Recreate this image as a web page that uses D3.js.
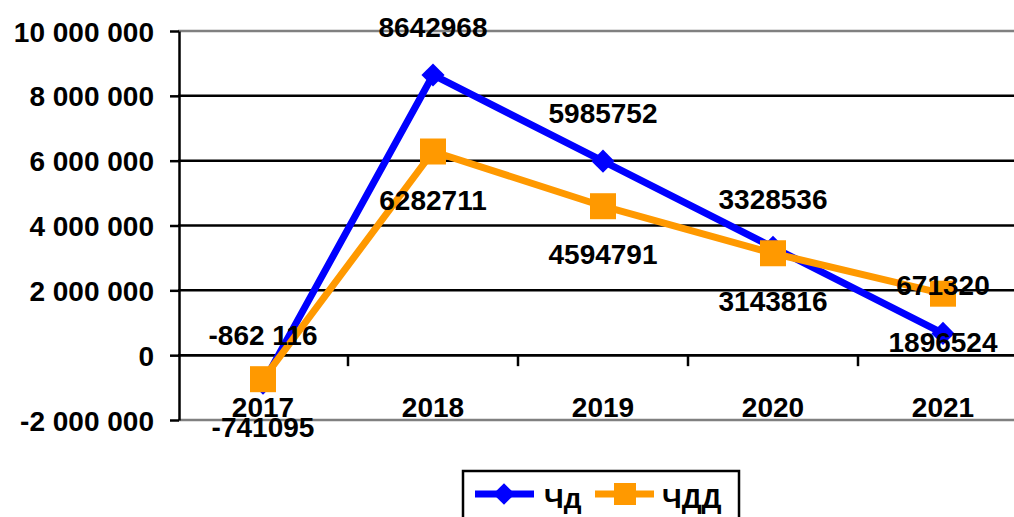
<!DOCTYPE html>
<html>
<head>
<meta charset="utf-8">
<script src="https://cdn.jsdelivr.net/npm/d3@7"></script>
<style>
  body { margin: 0; background: #fff; }
  svg text { font-family: "Liberation Sans", Arial, sans-serif; font-weight: bold; fill: #000; }
</style>
</head>
<body>
<div id="chart"></div>
<script>
// chart data
var years = ["2017", "2018", "2019", "2020", "2021"];
var chd = [-862116, 8642968, 5985752, 3328536, 671320];
var chdd = [-741095, 6282711, 4594791, 3143816, 1896524];
var chdLabels = ["-862 116", "8642968", "5985752", "3328536", "671320"];
var chddLabels = ["-741095", "6282711", "4594791", "3143816", "1896524"];
var yTicks = [-2000000, 0, 2000000, 4000000, 6000000, 8000000, 10000000];

var width = 1014, height = 517;
var margin = {top: 31, left: 178, bottom: 420, right: 1028};

var svg = d3.select("#chart").append("svg")
    .attr("width", width)
    .attr("height", height);

var x = d3.scaleBand()
    .domain(years)
    .range([margin.left, margin.right]);

var y = d3.scaleLinear()
    .domain([-2000000, 10000000])
    .range([margin.bottom, margin.top]);

// "10 000 000" style, plain hyphen for negatives
var fmt = function(v) {
    return d3.format(",")(v).replace(/,/g, " ").replace("\u2212", "-");
};

// gridlines
svg.append("g")
    .selectAll("line")
    .data(yTicks).enter()
    .append("line")
    .attr("x1", margin.left)
    .attr("x2", margin.right)
    .attr("y1", function(d){ return y(d); })
    .attr("y2", function(d){ return y(d); })
    .attr("stroke", function(d){ return (d === 10000000 || d === -2000000) ? "#808080" : "#000"; })
    .attr("stroke-width", 2.5);

// y axis
var yAxis = d3.axisLeft(y)
    .tickValues(yTicks)
    .tickFormat(fmt)
    .tickSizeInner(9)
    .tickSizeOuter(0)
    .tickPadding(16);

var gy = svg.append("g")
    .attr("transform", "translate(" + (margin.left + 1) + ",0)")
    .call(yAxis);
gy.select(".domain").attr("stroke", "#000").attr("stroke-width", 2.5);
gy.selectAll(".tick line").attr("stroke", "#000").attr("stroke-width", 2.5);
gy.selectAll(".tick text").style("font-size", "28px").attr("dy", "0.36em");

// x axis at zero
svg.append("line")
    .attr("x1", margin.left).attr("x2", margin.right)
    .attr("y1", y(0)).attr("y2", y(0))
    .attr("stroke", "#000").attr("stroke-width", 2.5);

svg.append("g")
    .selectAll("line")
    .data(years.slice(1)).enter()
    .append("line")
    .attr("x1", function(d){ return x(d); })
    .attr("x2", function(d){ return x(d); })
    .attr("y1", y(0))
    .attr("y2", y(0) + 11)
    .attr("stroke", "#000").attr("stroke-width", 2.5);

svg.append("g")
    .selectAll("text")
    .data(years).enter()
    .append("text")
    .attr("x", function(d){ return x(d) + x.bandwidth() / 2; })
    .attr("y", 417)
    .attr("text-anchor", "middle")
    .style("font-size", "28px")
    .text(function(d){ return d; });

var cx = function(d, i){ return x(years[i]) + x.bandwidth() / 2; };

function drawSeries(values, color) {
    var line = d3.line()
        .x(function(d, i){ return x(years[i]) + x.bandwidth() / 2; })
        .y(function(d){ return y(d); });
    svg.append("path")
        .datum(values)
        .attr("d", line)
        .attr("fill", "none")
        .attr("stroke", color)
        .attr("stroke-width", 7)
        .attr("stroke-linejoin", "round");
}

drawSeries(chd, "#0000FF");
drawSeries(chdd, "#FF9900");

// diamonds
svg.append("g")
    .selectAll("path")
    .data(chd).enter()
    .append("path")
    .attr("d", d3.symbol().type(d3.symbolDiamond2 || d3.symbolSquare).size(340))
    .attr("transform", function(d, i){ return "translate(" + cx(d, i) + "," + y(d) + ")"; })
    .attr("fill", "#0000FF");

// squares
svg.append("g")
    .selectAll("rect")
    .data(chdd).enter()
    .append("rect")
    .attr("x", function(d, i){ return cx(d, i) - 13; })
    .attr("y", function(d){ return y(d) - 13; })
    .attr("width", 26)
    .attr("height", 26)
    .attr("fill", "#FF9900");

// value labels: Чд above its points, ЧДД below
svg.append("g")
    .selectAll("text")
    .data(chd).enter()
    .append("text")
    .attr("x", cx)
    .attr("y", function(d){ return y(d) - 38; })
    .attr("text-anchor", "middle")
    .style("font-size", "28px")
    .text(function(d, i){ return chdLabels[i]; });

svg.append("g")
    .selectAll("text")
    .data(chdd).enter()
    .append("text")
    .attr("x", cx)
    .attr("y", function(d){ return y(d) + 58; })
    .attr("text-anchor", "middle")
    .style("font-size", "28px")
    .text(function(d, i){ return chddLabels[i]; });

// legend
var legend = svg.append("g");
legend.append("rect")
    .attr("x", 463).attr("y", 471)
    .attr("width", 276).attr("height", 60)
    .attr("fill", "#fff")
    .attr("stroke", "#000").attr("stroke-width", 2.5);

legend.append("line")
    .attr("x1", 475).attr("x2", 534).attr("y1", 494).attr("y2", 494)
    .attr("stroke", "#0000FF").attr("stroke-width", 7);
legend.append("path")
    .attr("d", d3.symbol().type(d3.symbolDiamond2 || d3.symbolSquare).size(300))
    .attr("transform", "translate(504,494)")
    .attr("fill", "#0000FF");
legend.append("text")
    .attr("x", 544).attr("y", 508)
    .style("font-size", "28px")
    .text("Чд");

legend.append("line")
    .attr("x1", 595).attr("x2", 654).attr("y1", 494).attr("y2", 494)
    .attr("stroke", "#FF9900").attr("stroke-width", 7);
legend.append("rect")
    .attr("x", 614).attr("y", 483)
    .attr("width", 22).attr("height", 22)
    .attr("fill", "#FF9900");
legend.append("text")
    .attr("x", 662).attr("y", 508)
    .style("font-size", "28px")
    .text("ЧДД");
</script>
</body>
</html>
